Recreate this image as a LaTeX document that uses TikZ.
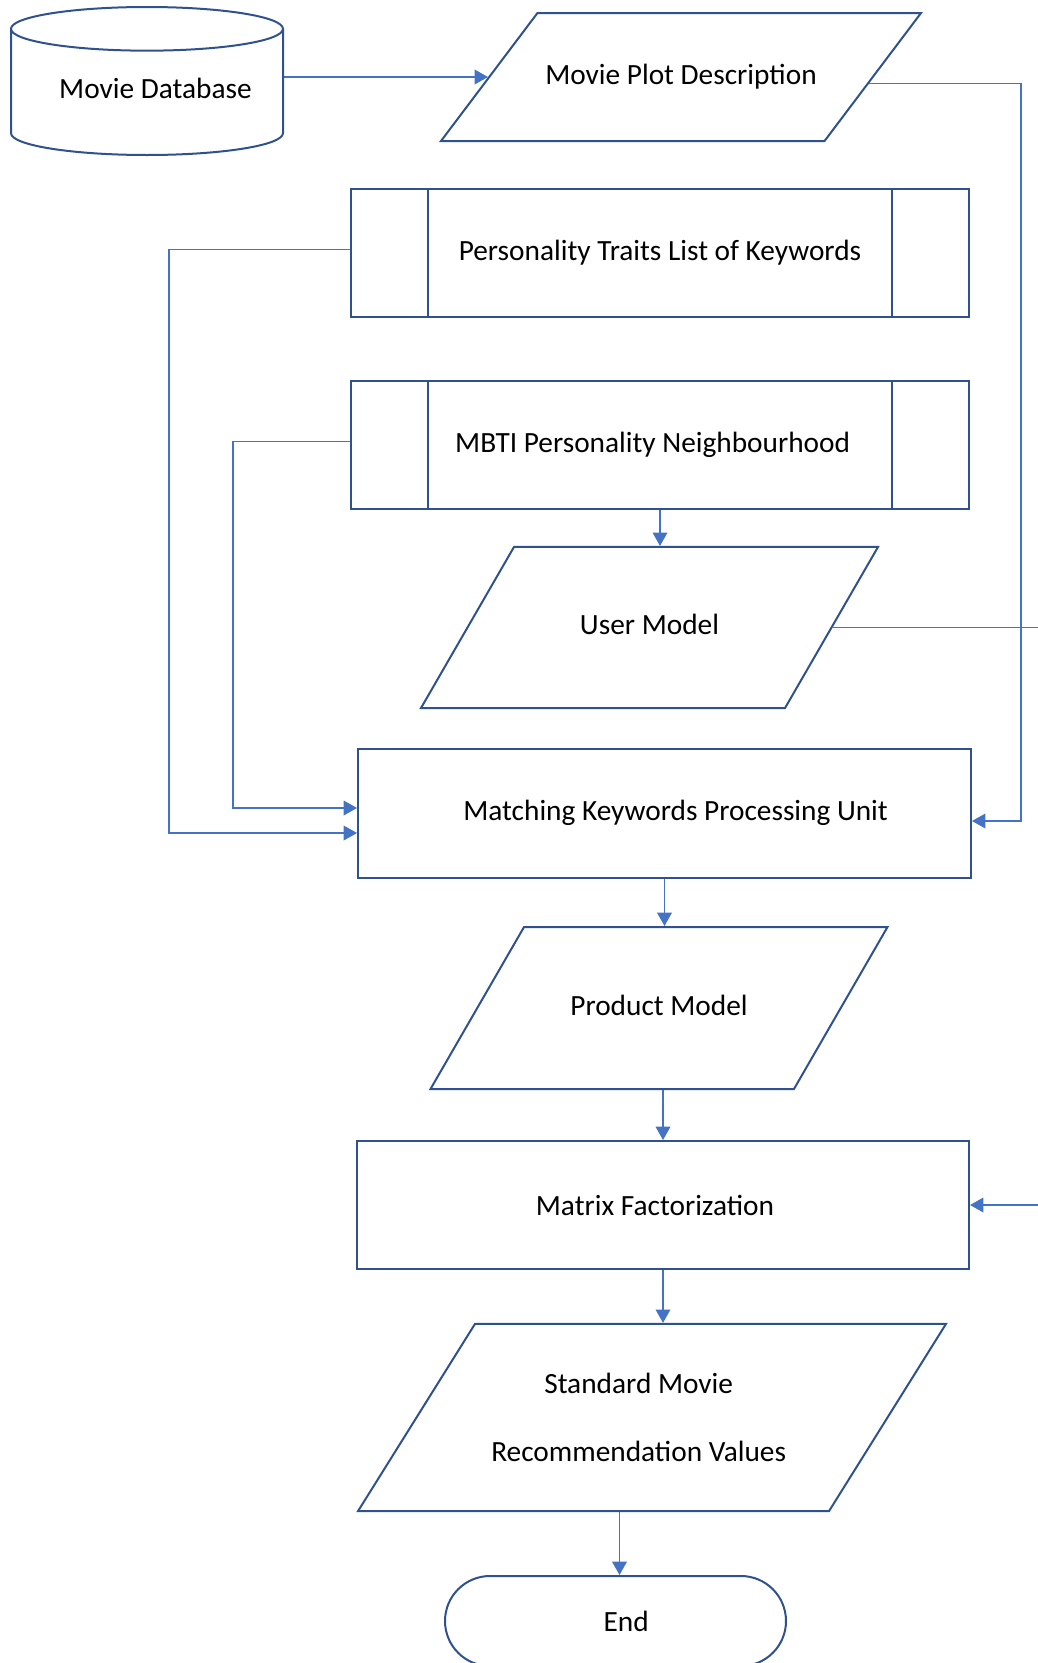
\documentclass[tikz,border=0pt]{standalone}
\usepackage{fontspec}
\setmainfont{Carlito}
\usetikzlibrary{shapes.geometric,arrows.meta,calc}
\definecolor{edgeblue}{HTML}{2F528F}
\definecolor{flowblue}{HTML}{4472C4}
\tikzset{
  outline/.style={draw=edgeblue,line width=1.5pt,font=\fontsize{22}{26}\selectfont},
  box/.style={outline,minimum width=463.5pt,minimum height=96pt},
  subproc/.style={box,path picture={
      \draw[edgeblue,line width=1.5pt] ([xshift=57.75pt]path picture bounding box.north west) -- ([xshift=57.75pt]path picture bounding box.south west);
      \draw[edgeblue,line width=1.5pt] ([xshift=-57.75pt]path picture bounding box.north east) -- ([xshift=-57.75pt]path picture bounding box.south east);}},
  io/.style={outline,trapezium,trapezium stretches body,trapezium left angle=60,trapezium right angle=120,text height=15pt,text depth=4pt},
  store/.style={outline,cylinder,shape border rotate=90,aspect=0.2,minimum width=204pt,minimum height=111pt},
  terminal/.style={outline,rectangle,rounded corners=33.75pt,minimum width=255.75pt,minimum height=67.5pt},
  flow/.style={draw=flowblue,line width=1pt,-{Triangle[length=10pt,width=11pt]}}
}
\begin{document}
\begin{tikzpicture}[x=0.75pt,y=-0.75pt]
  \useasboundingbox (0,0) rectangle (1038,1663);
  \clip (0,0) rectangle (1038,1663);

  \node[store,anchor=shape center] (db) at (147,81) {\hspace*{12.7pt}\raisebox{9.6pt}{Movie Database}};
  \node[io,trapezium left angle=53,trapezium right angle=127,minimum width=360pt,inner ysep=38.5pt] (plot) at (681,77) {Movie Plot Description};
  \node[subproc] (traits) at (660,253) {Personality Traits List of Keywords};
  \node[subproc] (mbti) at (660,445) {MBTI Personality Neighbourhood\hspace*{11pt}};
  \node[io,minimum width=342.75pt,inner ysep=50.9pt] (um) at (649.5,627.5) {User Model};
  \node[box,minimum width=459.75pt,minimum height=96.75pt] (mk) at (664.5,813) {\hspace*{16.6pt}Matching Keywords Processing Unit};
  \node[io,minimum width=342.75pt,inner ysep=51.25pt] (pm) at (659,1008) {Product Model};
  \node[box,minimum width=459pt] (mf) at (663,1205) {Matrix Factorization\hspace*{12pt}};
  \node[io,trapezium left angle=58,trapezium right angle=122,minimum width=441pt,text height=,text depth=,inner ysep=37pt,align=center,font=\fontsize{22}{51}\selectfont] (std) at (652,1417.5) {Standard Movie\hspace*{20pt}\\Recommendation Values\hspace*{20pt}};
  \node[terminal] (end) at (615.5,1621) {\hspace*{16pt}End};

  % side lanes
  \coordinate (rail) at (1021,0);
  \coordinate (outer) at (1060,0);
  \coordinate (lane1) at (169,0);
  \coordinate (lane2) at (233,0);
  \coordinate (plotout) at ($(plot.bottom right corner)!0.45!(plot.top right corner)$);
  \coordinate (traitsout) at ([yshift=2.5pt]traits.west);
  \coordinate (mbtiout) at ([yshift=2.5pt]mbti.west);
  \coordinate (mkin1) at ([yshift=3.75pt]mk.west);
  \coordinate (mkin2) at ([yshift=-15pt]mk.west);
  \coordinate (mkin3) at ([yshift=-6pt]mk.east);
  \coordinate (endin) at ([xshift=3pt]end.north);

  \draw[flow] (db.east |- plot.west) -- (plot.west);
  \draw[flow] (plotout) -- (rail |- plotout) -- (rail |- mkin3) -- (mkin3);
  \draw[flow] (traitsout) -- (lane1 |- traitsout) -- (lane1 |- mkin2) -- (mkin2);
  \draw[flow] (mbtiout) -- (lane2 |- mbtiout) -- (lane2 |- mkin1) -- (mkin1);
  \draw[flow] (um.east) -- (outer |- um.east) -- (outer |- mf.east) -- (mf.east);

  \draw[flow] (mbti.south) -- (mbti.south |- um.north);
  \draw[flow] (mk.south) -- (mk.south |- pm.north);
  \draw[flow] (mf.north |- pm.south) -- (mf.north);
  \draw[flow] (mf.south) -- (mf.south |- std.north);
  \draw[flow] (endin |- std.south) -- (endin);
\end{tikzpicture}
\end{document}
